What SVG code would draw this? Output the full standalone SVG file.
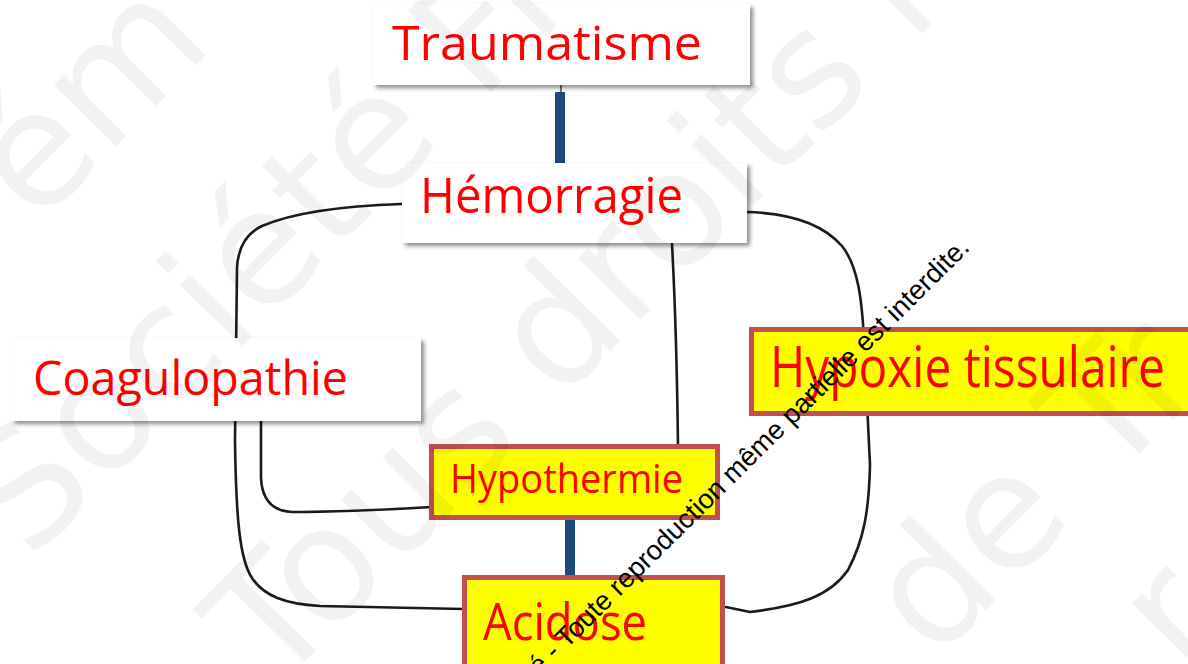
<svg xmlns="http://www.w3.org/2000/svg" width="1188" height="664" viewBox="0 0 1188 664">
<defs>
<filter id="sh" x="-10%" y="-20%" width="120%" height="150%">
<feDropShadow dx="3" dy="3" stdDeviation="2" flood-color="#000" flood-opacity="0.45"/>
</filter>
<style>
.wbox{fill:#fff;filter:url(#sh)}
.ybox{fill:#ffff00;stroke:#c0504d;stroke-width:5}
.lbl{font-family:"Open Sans","Noto Sans",sans-serif;fill:#ff0000;font-weight:normal}
.bar{fill:#1f497d}
.curve{fill:none;stroke:#1a1a1a;stroke-width:2.6;stroke-linecap:round;stroke-linejoin:round}
.wm{font-family:"DejaVu Sans",Verdana,sans-serif;font-size:160px;fill:#000;fill-opacity:0.05}
.legal{font-family:"Liberation Sans",Arial,sans-serif;font-size:27.3px;fill:#000}
</style>
</defs>
<rect width="1188" height="664" fill="#fff"/>
<g id="connectors">
<path class="curve" d="M402,204 C340,206 290,214 262,226 C245,234 238,248 237,268 L235,440 C236,520 240,560 252,578 C264,596 285,604 320,606 L463,609"/>
<path class="curve" d="M261,420 L261,478 C262,500 272,511 292,512 C330,512 380,510 431,507"/>
<path class="curve" d="M672,244 C675,300 677,360 678,446"/>
<path class="curve" d="M746,212 C790,213 822,223 842,246 C858,266 862,300 864,340 L870,465 C869,510 864,540 848,570 C830,596 800,606 750,612 L726,607"/>
<line x1="561" y1="85" x2="561" y2="93" stroke="#444" stroke-width="1.5"/>
<rect class="bar" x="555" y="92" width="10" height="80"/>
<rect class="bar" x="565" y="520" width="10" height="55"/>
</g>
<g id="node-traumatisme">
<rect class="wbox" x="373" y="4" width="377" height="81"/>
<text class="lbl" x="392" y="60" font-size="48" textLength="310" lengthAdjust="spacingAndGlyphs">Traumatisme</text>
</g>
<g id="node-hemorragie">
<rect class="wbox" x="402" y="163" width="345" height="80"/>
<text class="lbl" x="420" y="213" font-size="50" textLength="263" lengthAdjust="spacingAndGlyphs">Hémorragie</text>
</g>
<g id="node-coagulopathie">
<rect class="wbox" x="11" y="338" width="410" height="83"/>
<text class="lbl" x="33" y="395" font-size="47" textLength="315" lengthAdjust="spacingAndGlyphs">Coagulopathie</text>
</g>
<g id="node-hypoxie">
<rect class="ybox" x="751.5" y="329.5" width="440" height="84"/>
<text class="lbl" x="770" y="387" font-size="56" textLength="395" lengthAdjust="spacingAndGlyphs">Hypoxie tissulaire</text>
</g>
<g id="node-hypothermie">
<rect class="ybox" x="431.5" y="446.5" width="286" height="71"/>
<text class="lbl" x="450" y="493" font-size="40" textLength="233" lengthAdjust="spacingAndGlyphs">Hypothermie</text>
</g>
<g id="node-acidose">
<rect class="ybox" x="464.5" y="577.5" width="258" height="100"/>
<text class="lbl" x="483" y="640" font-size="52" textLength="164" lengthAdjust="spacingAndGlyphs">Acidose</text>
</g>
<g id="watermark">
<text class="wm" transform="translate(37,227) rotate(-45.5)">ém</text>
<text class="wm" transform="translate(30,562) rotate(-45.5)">Société Fr</text>
<text class="wm" transform="translate(276,691) rotate(-45.5)">Tous droits ré</text>
<text class="wm" transform="translate(935,662) rotate(-45.5)">de Tr</text>
<text class="wm" transform="translate(1184,675) rotate(-45.5)">r</text>
</g>
<text class="legal" transform="translate(971,249) rotate(-44.7)" text-anchor="end">é - Toute reproduction même partielle est interdite.</text>
</svg>
